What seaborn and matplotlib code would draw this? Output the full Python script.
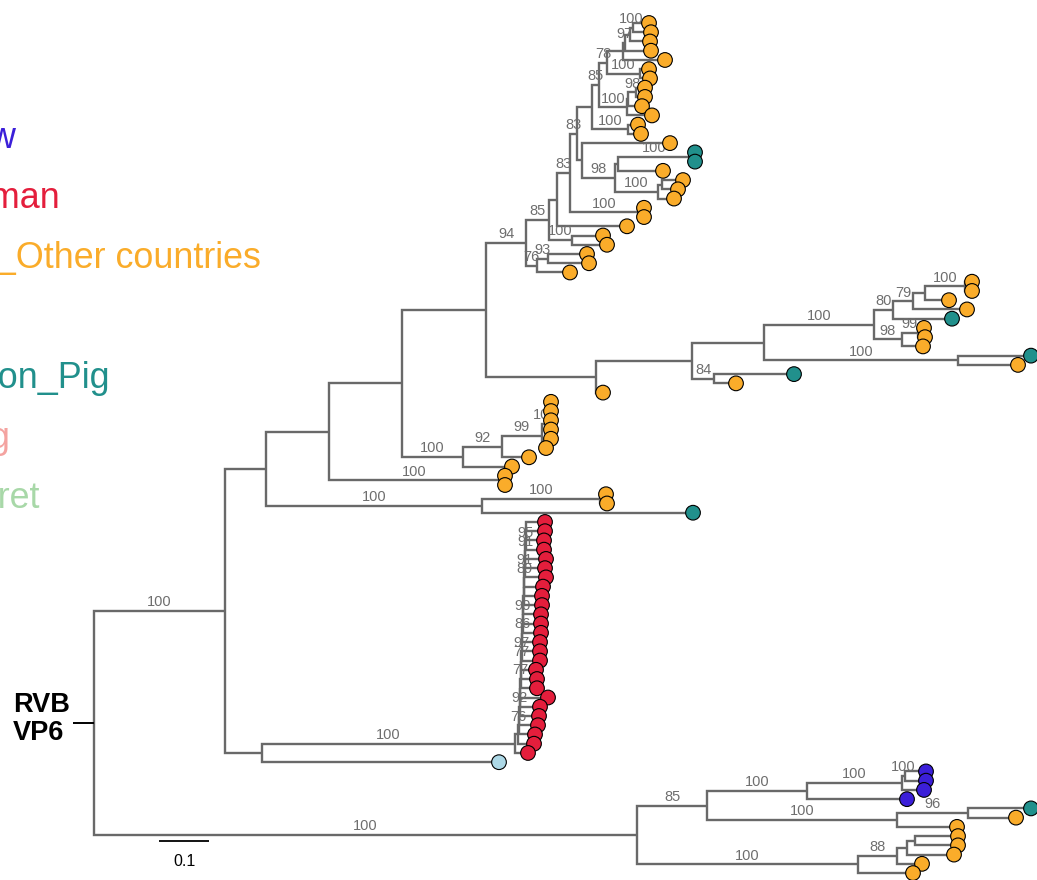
import matplotlib
matplotlib.use("Agg")
import matplotlib.pyplot as plt
from matplotlib.collections import LineCollection
import pandas as pd
import seaborn as sns

# ---------------- data ----------------
host_names = ["Cow", "Human", "Pig_Other countries", "Rat", "Union_Pig", "Dog", "Ferret"]
host_codes = ["B", "R", "O", "L", "T", "P", "G"]
host_colors = ["#3B1FD9", "#E41E3C", "#FAAC2A", "#ADD8E6", "#21908C", "#F4A3A0", "#A8D8A8"]

# host of each tip, top to bottom, as runs (code, count)
tip_host_runs = [("O", 14), ("T", 2), ("O", 16), ("T", 1), ("O", 3), ("T", 1), ("O", 1),
                 ("T", 1), ("O", 14), ("T", 1), ("R", 26), ("L", 1), ("B", 4), ("T", 1), ("O", 7)]

# red (study) clade: ladder of nodes 56..79, tips 55..80
red_tip_len = [0.038, 0.038, 0.036, 0.036, 0.042, 0.040, 0.042, 0.038, 0.036, 0.036,
               0.036, 0.036, 0.036, 0.036, 0.036, 0.036, 0.030, 0.032, 0.032, 0.056,
               0.040, 0.038, 0.038, 0.032, 0.032, 0.026]
red_step_len = [0, 0, 0.002, 0, 0, 0.002, 0, 0, 0.002, 0, 0, 0.002, 0, 0, 0.002, 0, 0,
                0.002, 0, 0, 0.002, 0, 0.002, 0.006]
red_boot = ["", "", "95", "91", "", "91", "89", "", "", "", "90", "", "86", "", "97", "77",
            "", "77", "", "", "92", "", "76", ""]

# other clades (Newick pieces: branch lengths in substitutions/site, bootstrap labels)
c_607 = ("(((((t1:0.032,t2:0.036)100:0.006,t3:0.040):0.010,t4:0.052)97:0.004,t5:0.084):0.032,"
         "(t6:0.018,t7:0.020)100:0.066)78:0.016")
c_627 = "(((t8:0.018,t9:0.018)98:0.016,t10:0.028):0.002,t11:0.050)100:0.056"
c_615 = ("(((t15:0.010,t16:0.010)100:0.144,t17:0.090):0.006,"
         "((t18:0.042,t19:0.032):0.008,t20:0.032)100:0.086)98:0.066")
c_537 = "((t26:0.078,t27:0.082)93:0.022,t28:0.066)76:0.022"
c_893 = "((((t29:0.014,t30:0.014)100:0.080,t31:0.048):0.024,t32:0.108)79:0.040,t33:0.118)80:0.038"
c_902 = "((t34:0.012,t35:0.014)99:0.032,t36:0.042)98:0.056"
c_463 = ("((((((t42:0.002,t43:0.002):0.002,t44:0.004):0.002,(t45:0.004,t46:0.004):0.002)100:0.012,"
         "t47:0.008)99:0.080,t48:0.054)92:0.078,t49:0.098)100:0.122")
c_482 = "((t52:0.012,t53:0.014)100:0.236,t54:0.422)100:0.432"
c_707 = ("((((t82:0.042,t83:0.042)100:0.006,t84:0.044)100:0.190,t85:0.200)100:0.200,"
         "((t86:0.126,t87:0.096)96:0.142,t88:0.120)100:0.380)85:0.140")
c_858 = "((((t89:0.086,t90:0.086):0.016,t91:0.094):0.020,t92:0.050)88:0.078,t93:0.110)100:0.442"

# ---------------- assemble tree ----------------
red = f"(t55:{red_tip_len[0]},t56:{red_tip_len[1]}){red_boot[0]}:{red_step_len[0]}"
for k in range(57, 80):
    red = f"({red},t{k}:{red_tip_len[k - 55]}){red_boot[k - 56]}:{red_step_len[k - 56]}"
red = f"({red},t80:{red_tip_len[25]})100"

c_599 = "(" + c_607 + "," + c_627 + ")85:0.014"
c_592 = "(" + c_599 + ",(t12:0.020,t13:0.026)100:0.072):0.030"
c_582 = "(t14:0.176," + c_615 + "):0.010"
c_577 = "(" + c_592 + "," + c_582 + ")83:0.014"
c_570 = "(" + c_577 + ",(t21:0.012,t22:0.012)100:0.136)83:0.026"
c_557 = "(" + c_570 + ",t23:0.140):0.016"
c_549 = "(" + c_557 + ",(t24:0.062,t25:0.070)100:0.046)85:0.046"
c_526 = "(" + c_549 + "," + c_537 + ")94:0.080"
c_764 = "((" + c_893 + "," + c_902 + ")100:0.220,(t37:0.146,t38:0.120)100:0.388):0.144"
c_596 = "((" + c_764 + ",(t39:0.160,t40:0.044)84:0.044):0.192,t41:0.014):0.220"
c_486 = "(" + c_526 + "," + c_596 + "):0.168"
c_402 = "(" + c_486 + "," + c_463 + "):0.146"
c_329 = "(" + c_402 + ",(t50:0.010,t51:0.010)100:0.342):0.126"
c_A1 = "(" + c_329 + "," + c_482 + "):0.082"
c_262 = "(" + red + ":0.506,t81:0.474):0.074"
c_A = "(" + c_A1 + "," + c_262 + ")100:0.262"
c_B = "(" + c_707 + "," + c_858 + ")100:1.086"
newick = "(" + c_A + "," + c_B + ");"


def parse(s):
    pos = 0

    def node():
        nonlocal pos
        n = {"children": [], "label": "", "len": 0.0}
        if s[pos] == "(":
            pos += 1
            while True:
                n["children"].append(node())
                if s[pos] == ",":
                    pos += 1
                    continue
                if s[pos] == ")":
                    pos += 1
                    break
        start = pos
        while pos < len(s) and s[pos] not in ":,);":
            pos += 1
        n["label"] = s[start:pos]
        if pos < len(s) and s[pos] == ":":
            pos += 1
            start = pos
            while pos < len(s) and s[pos] not in ",);":
                pos += 1
            n["len"] = float(s[start:pos])
        return n

    return node()


root = parse(newick)
tips = []


def layout(n, x0):
    n["x"] = x0 + n["len"]
    for c in n["children"]:
        layout(c, n["x"])
    if not n["children"]:
        tips.append(n)
        n["y"] = len(tips)
    else:
        n["y"] = (n["children"][0]["y"] + n["children"][-1]["y"]) / 2


layout(root, 0.0)

segs, labels = [], []


def collect(n):
    for c in n["children"]:
        segs.append([(n["x"], n["y"]), (n["x"], c["y"]), (c["x"], c["y"])])
        if c["children"] and c["label"]:
            labels.append(((n["x"] + c["x"]) / 2, c["y"], c["label"]))
        collect(c)


collect(root)

tip_codes = "".join(code * cnt for code, cnt in tip_host_runs)
code_to_name = dict(zip(host_codes, host_names))
df = pd.DataFrame({"x": [t["x"] for t in tips], "y": [t["y"] for t in tips],
                   "host": [code_to_name[c] for c in tip_codes]})
palette = dict(zip(host_names, host_colors))

# ---------------- plot ----------------
sns.set_style("white")
plt.rcParams["font.family"] = ["Liberation Sans", "DejaVu Sans"]

fig = plt.figure(figsize=(10.37, 8.8), dpi=100)
ax = fig.add_axes([0, 0, 1, 1])
ax.set_xlim(-0.188, 1.886)
ax.set_ylim(93.75, -1.49)
ax.axis("off")

ax.add_collection(LineCollection(segs, colors="#696969", linewidths=1.7,
                                 joinstyle="miter", capstyle="butt", zorder=1))

for lx, ly, lab in labels:
    ax.annotate(lab, (lx, ly), xytext=(0, 1.2), textcoords="offset points",
                ha="center", va="bottom", fontsize=10.5, color="#6e6e6e", zorder=2)

sns.scatterplot(data=df, x="x", y="y", hue="host", palette=palette, s=112,
                edgecolor="black", linewidth=0.8, legend=False, ax=ax, zorder=3)
ax.set_xlabel("")
ax.set_ylabel("")

# root stub and label
ax.plot([-0.042, 0], [root["y"], root["y"]], color="black", lw=1.4, solid_capstyle="butt")
ax.text(13 / 1037, 1 - 719 / 880, "RVB\nVP6", transform=ax.transAxes, ha="left", va="center",
        fontsize=19.5, fontweight="bold", color="black", linespacing=1.1)

# scale bar
ax.plot([0.13, 0.23], [89.5, 89.5], color="black", lw=1.3, solid_capstyle="butt")
ax.text(0.18, 91.7, "0.1", ha="center", va="center", fontsize=11.5, color="black")

# legend-like coloured labels (cut by the left edge)
for i, (name, col) in enumerate(zip(host_names, host_colors)):
    ax.text(-56 / 1037, 1 - (148 + 60 * i) / 880, name, transform=ax.transAxes,
            ha="left", va="baseline", fontsize=25.8, color=col)

fig.savefig("out.png", dpi=100)
